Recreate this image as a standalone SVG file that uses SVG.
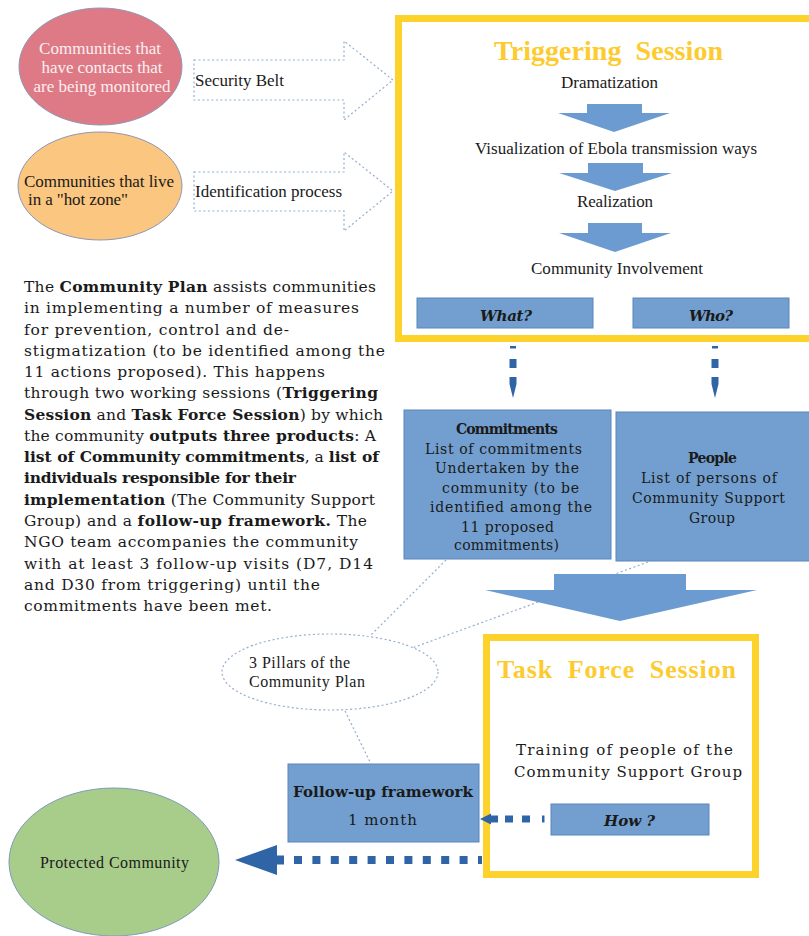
<svg xmlns="http://www.w3.org/2000/svg" width="809" height="936" viewBox="0 0 809 936">
<style>
.serif{font-family:"Liberation Serif","Times New Roman",serif;}
.dv{font-family:"DejaVu Serif","Liberation Serif",serif;}
.ybox{fill:none;stroke:#FDD22B;stroke-width:7;}
.title{fill:#FDCB2E;font-weight:bold;white-space:pre;}
.bbox{fill:#729FCF;stroke:#5A86BA;stroke-width:1;}
.barrow{fill:#6C9BD2;}
.dark{fill:#2F64A7;}
.dot{fill:none;stroke:#93AECF;stroke-width:1.2;stroke-dasharray:2 2.5;}
.txt{fill:#1a1a1a;}
</style>
<rect width="809" height="936" fill="#ffffff"/>

<g id="node-monitored">
  <ellipse cx="100.5" cy="66.5" rx="81.5" ry="58.5" fill="#DE7A86" stroke="#8E97B5" stroke-width="1"/>
  <g class="serif" font-size="17" fill="#FBEFF0" text-anchor="middle">
    <text x="100" y="54" textLength="122">Communities that</text>
    <text x="102" y="73" textLength="121">have contacts that</text>
    <text x="102" y="92" textLength="137">are being monitored</text>
  </g>
</g>

<g id="node-hotzone">
  <ellipse cx="100" cy="186" rx="82" ry="54" fill="#FBC67F" stroke="#8E97B5" stroke-width="1"/>
  <g class="serif txt" font-size="17">
    <text x="24" y="187" textLength="150">Communities that live</text>
    <text x="28" y="205" textLength="100">in a "hot zone"</text>
  </g>
</g>

<g id="label-security">
  <text class="serif txt" x="195" y="86" font-size="17" textLength="89">Security Belt</text>
</g>
<g id="label-identification">
  <text class="serif txt" x="195" y="197" font-size="17" textLength="147">Identification process</text>
</g>

<g id="node-triggering">
  <rect class="ybox" x="398.5" y="18.5" width="420" height="320"/>
  <text class="serif title" x="608.5" y="60" font-size="28" text-anchor="middle" textLength="229">Triggering  Session</text>
  <g class="serif txt" font-size="17" text-anchor="middle">
    <text x="609.5" y="88" textLength="97">Dramatization</text>
    <text x="616" y="154" textLength="282">Visualization of Ebola transmission ways</text>
    <text x="615" y="207" textLength="76">Realization</text>
    <text x="617" y="274" textLength="172">Community Involvement</text>
  </g>
</g>

<g id="node-what">
  <rect class="bbox" x="417" y="298" width="176" height="30"/>
  <text class="dv txt" x="506" y="321" font-size="15" font-weight="bold" font-style="italic" text-anchor="middle" textLength="52">What?</text>
</g>
<g id="node-who">
  <rect class="bbox" x="633" y="298" width="156" height="30"/>
  <text class="dv txt" x="711" y="321" font-size="15" font-weight="bold" font-style="italic" text-anchor="middle" textLength="44">Who?</text>
</g>

<g id="node-commitments">
  <rect class="bbox" x="404" y="410" width="207" height="149"/>
  <g class="dv txt" font-size="14" text-anchor="middle">
    <text x="507" y="434" font-weight="bold" textLength="102">Commitments</text>
    <text x="503.5" y="454" textLength="157">List of commitments</text>
    <text x="507" y="473" textLength="144">Undertaken by the</text>
    <text x="510.5" y="493" textLength="137">community (to be</text>
    <text x="511" y="512" textLength="162">identified among the</text>
    <text x="507.5" y="532" textLength="93">11 proposed</text>
    <text x="506.5" y="550" textLength="105">commitments)</text>
  </g>
</g>

<g id="node-people">
  <rect class="bbox" x="616" y="412" width="200" height="149"/>
  <g class="dv txt" font-size="14" text-anchor="middle">
    <text x="712.5" y="463" font-weight="bold" textLength="49">People</text>
    <text x="709" y="483" textLength="136">List of persons of</text>
    <text x="708.5" y="503" textLength="153">Community Support</text>
    <text x="712" y="523" textLength="46">Group</text>
  </g>
</g>

<g id="node-pillars">
  <ellipse class="dot" cx="330" cy="672" rx="108" ry="38"/>
  <g class="serif txt" font-size="16">
    <text x="249" y="668" textLength="101">3 Pillars of the</text>
    <text x="249" y="687" textLength="116">Community Plan</text>
  </g>
</g>

<g id="node-taskforce">
  <rect class="ybox" x="486.5" y="637.5" width="269" height="237"/>
  <text class="serif title" x="616.5" y="678" font-size="26" text-anchor="middle" textLength="239">Task  Force  Session</text>
  <g class="dv txt" font-size="15" text-anchor="middle">
    <text x="624.5" y="755" textLength="217">Training of people of the</text>
    <text x="628" y="777" textLength="228">Community Support Group</text>
  </g>
</g>

<g id="node-how">
  <rect class="bbox" x="551" y="804" width="158" height="31"/>
  <text class="dv txt" x="629.5" y="826" font-size="15" font-weight="bold" font-style="italic" text-anchor="middle" textLength="51">How ?</text>
</g>

<g id="node-followup">
  <rect class="bbox" x="288" y="764" width="191" height="78"/>
  <g class="dv txt" text-anchor="middle">
    <text x="383" y="797" font-size="15" font-weight="bold" textLength="180">Follow-up framework</text>
    <text x="382.5" y="825" font-size="15" textLength="69">1 month</text>
  </g>
</g>

<g id="node-protected">
  <ellipse cx="114" cy="862" rx="105" ry="74" fill="#A8CD8B" stroke="#7C9AB5" stroke-width="1"/>
  <text class="serif txt" x="114.5" y="868" font-size="16" text-anchor="middle" textLength="149">Protected Community</text>
</g>

<g id="paragraph" class="dv txt" font-size="15.5">
  <text x="24" y="292" textLength="352">The <tspan font-weight="bold">Community Plan</tspan> assists communities</text>
  <text x="24" y="313.3" textLength="335">in implementing a number of measures</text>
  <text x="24" y="334.5" textLength="265">for prevention, control and de-</text>
  <text x="24" y="355.8" textLength="361">stigmatization (to be identified among the</text>
  <text x="24" y="377.1" textLength="301">11 actions proposed). This happens</text>
  <text x="24" y="398.4" textLength="354">through two working sessions (<tspan font-weight="bold">Triggering</tspan></text>
  <text x="24" y="419.6" textLength="359"><tspan font-weight="bold">Session</tspan> and <tspan font-weight="bold">Task Force Session</tspan>) by which</text>
  <text x="24" y="440.9" textLength="352">the community <tspan font-weight="bold">outputs three products</tspan>: A</text>
  <text x="24" y="462.2" textLength="355"><tspan font-weight="bold">list of Community commitments</tspan>, a <tspan font-weight="bold">list of</tspan></text>
  <text x="24" y="483.4" textLength="272" font-weight="bold">individuals responsible for their</text>
  <text x="24" y="504.7" textLength="351"><tspan font-weight="bold">implementation</tspan> (The Community Support</text>
  <text x="24" y="526" textLength="343">Group) and a <tspan font-weight="bold">follow-up framework.</tspan> The</text>
  <text x="24" y="547.3" textLength="334">NGO team accompanies the community</text>
  <text x="24" y="568.5" textLength="349">with at least 3 follow-up visits (D7, D14</text>
  <text x="24" y="589.8" textLength="296">and D30 from triggering) until the</text>
  <text x="24" y="611" textLength="248">commitments have been met.</text>
</g>

<g id="connectors">
  <!-- block arrows (dotted outlines) -->
  <path class="dot" d="M194,60 L344,60 L344,41 L393,80 L344,120 L344,100 L194,100 Z"/>
  <path class="dot" d="M194,172 L344,172 L344,152 L393,191 L344,231 L344,211 L194,211 Z"/>
  <!-- dotted links to 3 pillars -->
  <line class="dot" x1="446" y1="560" x2="370" y2="636"/>
  <line class="dot" x1="648" y1="562" x2="412" y2="648"/>
  <line class="dot" x1="345" y1="711" x2="371" y2="764"/>
  <!-- triggering internal arrows -->
  <polygon class="barrow" points="587,104 642,104 642,113 670,113 614,132 558,113 587,113"/>
  <polygon class="barrow" points="588,163 643,163 643,173 672,173 615,191 559,173 588,173"/>
  <polygon class="barrow" points="588,223 642,223 642,233 671,233 615,252 559,233 588,233"/>
  <!-- big down arrow -->
  <polygon class="barrow" points="554,574 686,574 686,590 757,590 620,621 485,590 554,590"/>
  <!-- dashed down arrows -->
  <g class="dark">
    <rect x="510" y="346" width="6" height="2.5"/>
    <rect x="509.5" y="359" width="7" height="9"/>
    <polygon points="509.5,377 516.5,377 516.5,384 513,398 509.5,384"/>
    <rect x="712" y="346" width="6" height="2.5"/>
    <rect x="711.5" y="359" width="7" height="9"/>
    <polygon points="711.5,377 718.5,377 718.5,384 715,398 711.5,384"/>
  </g>
  <!-- how -> follow-up -->
  <g class="dark">
    <polygon points="480,819 491,813.5 491,815.5 498,815.5 498,822.5 491,822.5 491,824.5"/>
    <rect x="505" y="815.5" width="8" height="7"/>
    <rect x="522" y="815.5" width="8" height="7"/>
    <rect x="542" y="815.5" width="2.5" height="7"/>
  </g>
  <!-- task force -> protected community -->
  <line x1="294" y1="860" x2="482" y2="860" stroke="#2F64A7" stroke-width="8" stroke-dasharray="8 10.4"/>
  <polygon class="dark" points="235,860 277,845 277,855.5 284,855.5 284,864.5 277,864.5 277,875"/>
</g>
</svg>
